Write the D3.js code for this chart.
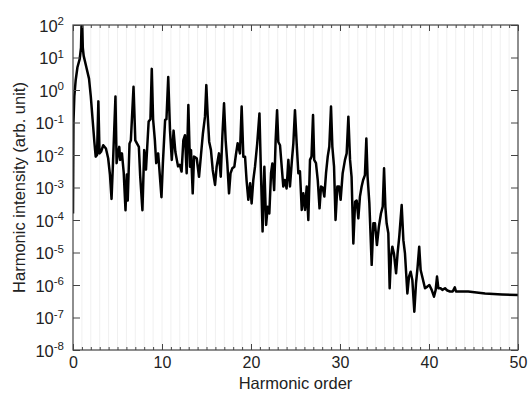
<!DOCTYPE html>
<html>
<head>
<meta charset="utf-8">
<script src="https://cdn.jsdelivr.net/npm/d3@7"></script>
<style>
  body { margin: 0; background: #fff; }
  svg { display: block; font-family: "Liberation Sans", Arial, Helvetica, sans-serif; }
</style>
</head>
<body>
<svg id="chart" width="528" height="397"></svg>
<script>
// harmonic order (x) and log10 of harmonic intensity (y)
var harmonicOrder = [
  0.00, 0.05, 0.15, 0.30, 0.50, 0.75, 0.90, 1.00, 1.10, 1.20, 1.50, 1.80, 2.00, 2.20, 2.40, 2.55, 2.70, 2.85, 2.98,
  3.15, 3.40, 3.70, 3.95, 4.15, 4.33, 4.50, 4.77, 4.90, 5.05, 5.20, 5.30, 5.50, 5.70, 5.90, 6.05, 6.15, 6.35, 6.50,
  6.80, 7.00, 7.20, 7.40, 7.55, 7.80, 8.00, 8.20, 8.33, 8.50, 8.70, 8.85, 9.00, 9.20, 9.35, 9.57, 9.94, 10.10,
  10.35, 10.50, 10.70, 10.90, 11.10, 11.30, 11.50, 11.80, 12.00, 12.20, 12.40, 12.58, 12.77, 12.96, 13.15, 13.26,
  13.45, 13.60, 13.90, 14.16, 14.38, 14.60, 14.83, 14.98, 15.13, 15.30, 15.50, 15.70, 15.96, 16.14, 16.40, 16.60,
  16.78, 16.97, 17.15, 17.34, 17.53, 17.70, 17.90, 18.13, 18.30, 18.50, 18.76, 18.95, 19.14, 19.33, 19.50, 19.70,
  19.90, 20.07, 20.26, 20.45, 20.70, 20.95, 21.10, 21.30, 21.50, 21.70, 21.87, 22.06, 22.25, 22.40, 22.60, 22.77,
  22.93, 23.07, 23.26, 23.45, 23.63, 23.80, 24.00, 24.20, 24.38, 24.60, 24.76, 24.94, 25.13, 25.32, 25.50, 25.70,
  25.88, 26.07, 26.26, 26.44, 26.63, 26.80, 26.97, 27.10, 27.30, 27.50, 27.70, 27.87, 28.05, 28.24, 28.43, 28.62,
  28.80, 28.99, 29.14, 29.33, 29.50, 29.70, 29.90, 30.07, 30.30, 30.56, 30.75, 30.94, 31.13, 31.30, 31.50, 31.70,
  31.87, 32.06, 32.24, 32.43, 32.60, 32.80, 32.96, 33.10, 33.30, 33.56, 33.75, 33.93, 34.15, 34.37, 34.60, 34.80,
  34.95, 35.10, 35.24, 35.43, 35.58, 35.73, 35.88, 36.07, 36.30, 36.47, 36.66, 36.93, 37.12, 37.30, 37.57, 37.75,
  37.94, 38.13, 38.35, 38.54, 38.72, 38.90, 39.06, 39.29, 39.55, 39.81, 40.04, 40.30, 40.56, 40.75, 40.90, 41.05,
  41.30, 41.50, 41.80, 42.06, 42.36, 42.66, 42.90, 43.03, 44.40, 46.30, 48.20, 50.00
];
var intensityExp = [
  -3.80, -1.00, -0.20, 0.30, 0.70, 0.95, 1.30, 2.50, 1.30, 1.05, 0.70, 0.35, -0.20, -0.90, -1.60, -2.05, -2.00, -0.35, -1.95,
  -1.90, -1.70, -1.80, -2.10, -2.60, -3.35, -2.20, -0.20, -2.25, -1.95, -1.75, -2.15, -1.95, -2.55, -3.70, -2.60, -3.40, -1.65, -1.55,
  0.10, -1.55, -1.65, -1.75, -2.65, -3.70, -1.85, -2.45, -1.80, -0.97, -0.90, 0.65, -0.90, -1.55, -2.25, -1.95, -3.30, -2.25,
  -0.92, -0.90, 0.40, -1.25, -2.15, -1.25, -1.90, -2.35, -2.30, -2.51, -1.54, -1.39, -2.56, -0.46, -2.36, -1.85,
  -3.18, -2.05, -2.10, -2.67, -2.00, -1.33, -0.82, 0.15, -0.77, -1.59, -1.85, -2.46, -2.92, -2.36, -1.95, -2.67,
  -1.44, -0.41, -1.54, -2.26, -3.18, -2.56, -2.41, -2.36, -2.00, -1.64, -1.95, -0.51, -2.05, -2.05, -2.77, -3.38,
  -2.87, -3.49, -2.77, -2.36, -1.64, -0.72, -2.36, -4.35, -2.36, -4.15, -3.59, -3.80, -2.56, -2.26, -3.08, -1.54,
  -0.62, -1.60, -1.70, -2.36, -2.97, -2.77, -3.03, -2.15, -2.97, -2.15, -1.64, -0.62, -1.64, -2.56, -2.50, -3.69,
  -3.18, -3.69, -2.97, -4.00, -2.15, -2.05, -0.77, -2.15, -2.25, -2.77, -3.64, -2.97, -3.00, -3.28, -2.56, -2.05,
  -1.74, -0.51, -1.74, -2.36, -4.00, -2.97, -2.97, -3.38, -2.56, -2.15, -1.95, -0.82, -2.15, -2.67, -4.72, -3.44,
  -3.40, -3.95, -3.28, -2.97, -2.77, -2.62, -1.49, -2.67, -3.49, -5.38, -4.10, -4.10, -4.77, -4.20, -3.80, -3.59,
  -2.41, -3.60, -4.10, -4.41, -6.10, -5.13, -4.82, -5.05, -5.64, -5.03, -4.51, -3.54, -4.62, -5.03, -6.26, -5.74,
  -5.59, -5.85, -6.82, -5.95, -5.44, -4.82, -5.54, -5.80, -6.10, -6.05, -6.00, -6.15, -6.36, -6.15, -5.74, -6.10,
  -6.10, -6.15, -6.10, -6.17, -6.20, -6.20, -6.07, -6.20, -6.20, -6.26, -6.29, -6.31
];
var xMajorTicks = [0, 10, 20, 30, 40, 50];
var yDecades = [-8, -7, -6, -5, -4, -3, -2, -1, 0, 1, 2];

var margin = {top: 25, right: 10, bottom: 47, left: 73};
var width = 528 - margin.left - margin.right;
var height = 397 - margin.top - margin.bottom;

var svg = d3.select("#chart");
var g = svg.append("g").attr("transform", "translate(" + margin.left + "," + margin.top + ")");

var x = d3.scaleLinear().domain([0, 50]).range([0, width]);
var y = d3.scaleLog().domain([1e-8, 1e2]).range([height, 0]);

var axisColor = "#444";
var minorTicks = d3.range(0, 51);

// faint vertical grid at every harmonic
g.append("g").attr("class", "grid")
  .selectAll("line")
  .data(minorTicks.filter(function(d){ return d > 0 && d < 50; }))
  .enter().append("line")
    .attr("x1", d => x(d)).attr("x2", d => x(d))
    .attr("y1", 0).attr("y2", height)
    .attr("stroke", "#f0f0f0")
    .attr("stroke-width", 1);

// spectrum
var data = harmonicOrder.map(function(h, i){ return {h: h, v: Math.pow(10, intensityExp[i])}; });

svg.append("defs").append("clipPath").attr("id", "plotclip")
  .append("rect").attr("width", width).attr("height", height);

var line = d3.line()
  .x(d => x(d.h))
  .y(d => y(d.v));

g.append("path")
  .datum(data)
  .attr("clip-path", "url(#plotclip)")
  .attr("fill", "none")
  .attr("stroke", "#000")
  .attr("stroke-width", 2.5)
  .attr("stroke-linejoin", "round")
  .attr("d", line);

// axes, ticks pointing inward
function styleAxis(sel){
  sel.select(".domain").remove();
  sel.selectAll(".tick line").attr("stroke", axisColor);
  sel.selectAll("text").attr("fill", "#222").style("font-size", "16px");
}

g.append("g").attr("transform", "translate(0," + height + ")")
  .call(d3.axisBottom(x).tickValues(minorTicks).tickSize(-3).tickFormat(""))
  .call(styleAxis);
g.append("g").attr("transform", "translate(0," + height + ")")
  .call(d3.axisBottom(x).tickValues(xMajorTicks).tickSize(-6).tickPadding(7).tickFormat(d3.format("d")))
  .call(styleAxis);
g.append("g")
  .call(d3.axisTop(x).tickValues(minorTicks).tickSize(-3).tickFormat(""))
  .call(styleAxis);
g.append("g")
  .call(d3.axisTop(x).tickValues(xMajorTicks).tickSize(-6).tickFormat(""))
  .call(styleAxis);

var yTickVals = yDecades.map(e => Math.pow(10, e));
var yAxisG = g.append("g")
  .call(d3.axisLeft(y).tickValues(yTickVals).tickSize(-7).tickFormat(""))
  .call(styleAxis);
yAxisG.selectAll(".tick").each(function(d, i){
  var t = d3.select(this).append("text")
    .attr("x", -9).attr("dy", "0.38em")
    .attr("text-anchor", "end")
    .attr("fill", "#222")
    .style("font-size", "16.5px")
    .text("10");
  t.append("tspan")
    .attr("dy", "-0.55em")
    .style("font-size", "11.5px")
    .text(String(yDecades[i]));
});
g.append("g").attr("transform", "translate(" + width + ",0)")
  .call(d3.axisRight(y).tickValues(yTickVals).tickSize(-7).tickFormat(""))
  .call(styleAxis);

// frame
g.append("rect")
  .attr("width", width).attr("height", height)
  .attr("fill", "none")
  .attr("stroke", axisColor)
  .attr("stroke-width", 1.2);

// titles
svg.append("text")
  .attr("x", margin.left + width / 2).attr("y", 389)
  .attr("text-anchor", "middle")
  .attr("fill", "#222")
  .style("font-size", "16.5px")
  .text("Harmonic order");

svg.append("text")
  .attr("transform", "translate(25," + (margin.top + height / 2) + ") rotate(-90)")
  .attr("text-anchor", "middle")
  .attr("fill", "#222")
  .style("font-size", "16.5px")
  .text("Harmonic intensity (arb. unit)");
</script>
</body>
</html>
